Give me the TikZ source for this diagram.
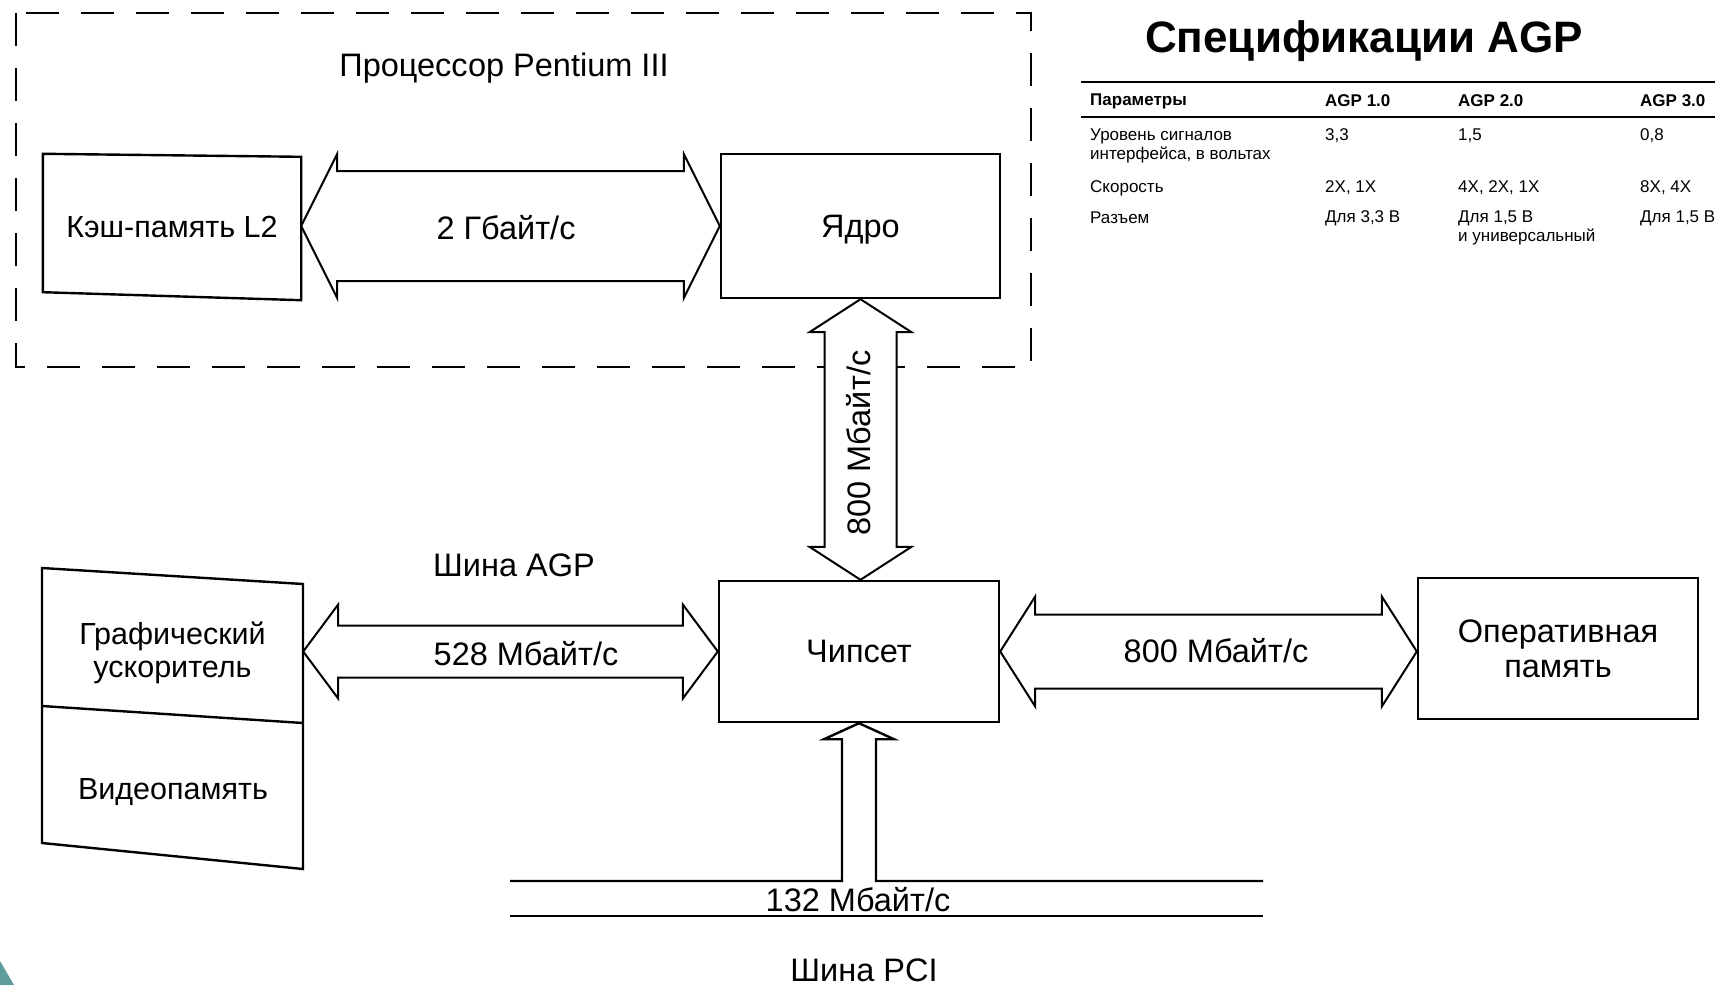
\documentclass[tikz,border=0pt]{standalone}
\usepackage{fontspec}
\setmainfont{Liberation Sans}
\usetikzlibrary{calc}
\definecolor{cornerteal}{RGB}{95,155,155}
\newcommand\hdarrow[5]{%
  \draw[blockarrow] (#1) -- ($(#1)+(#5,-#4)$) -- ($(#1)+(#5,-#3)$) -- ($(#2)+(-#5,-#3)$) -- ($(#2)+(-#5,-#4)$) -- (#2)
    -- ($(#2)+(-#5,#4)$) -- ($(#2)+(-#5,#3)$) -- ($(#1)+(#5,#3)$) -- ($(#1)+(#5,#4)$) -- cycle;}
\newcommand\vdarrow[5]{%
  \draw[blockarrow] (#1) -- ($(#1)+(#4,#5)$) -- ($(#1)+(#3,#5)$) -- ($(#2)+(#3,-#5)$) -- ($(#2)+(#4,-#5)$) -- (#2)
    -- ($(#2)+(-#4,-#5)$) -- ($(#2)+(-#3,-#5)$) -- ($(#1)+(-#3,#5)$) -- ($(#1)+(-#4,#5)$) -- cycle;}
\begin{document}
\begin{tikzpicture}[x=1pt,y=-1pt,line join=miter,
  box/.style={draw,line width=2.4pt,inner sep=0pt,align=center,font=\fontsize{32.5}{36}\selectfont},
  plain/.style={inner sep=0pt,align=center,font=\fontsize{30.5}{34}\selectfont},
  outline/.style={draw,line width=2.4pt},
  blockarrow/.style={draw,fill=white,line width=2pt},
  lbl/.style={inner sep=0pt,font=\fontsize{32.5}{36}\selectfont},
  tab/.style={anchor=west,inner sep=0pt,font=\fontsize{17}{20}\selectfont},
  tabh/.style={tab,font=\fontsize{17}{20}\selectfont\bfseries},
  frame/.style={draw,line width=2.4pt,dash pattern=on 33pt off 22pt},
  rule/.style={draw,line width=2pt}]
\useasboundingbox (0,0) rectangle (1715,985);
\fill[white] (0,0) rectangle (1715,985);
% processor frame
\draw[frame] (16,13) rectangle (1031,367);
\node[lbl] (cpu) at (504,68) {Процессор Pentium III};
% boxes
\node[plain,minimum width=258pt,minimum height=146pt] (cache) at (172,227) {Кэш-память L2};
\draw[outline] (cache.north west) -- ($(cache.north east)+(0,3)$) -- (cache.south east) -- ($(cache.south west)+(0,-8)$) -- cycle;
\node[box,minimum width=279pt,minimum height=144pt,text depth=0pt] (core) at (860.5,226) {Ядро};
\node[box,minimum width=280pt,minimum height=141pt] (chipset) at (859,651.5) {Чипсет};
\node[box,minimum width=280pt,minimum height=141pt] (ram) at (1558,648.5) {Оперативная\\[-1pt]память};
% graphics card
\node[plain,minimum width=261pt,minimum height=138pt] (gpu) at (172.5,653) {Графический\\[-1pt]ускоритель};
\node[plain] (vmem) at (173,792) {Видеопамять};
\draw[outline] (42,568) -- (303,584) -- (303,869) -- (42,843) -- cycle;
\draw[outline] (42,706) -- (303,723);
% arrows
\hdarrow{core.west -| cache.east}{core.west}{55}{72}{36}
\node[lbl] (l2g) at (506,228) {2 Гбайт/с};
\vdarrow{core.south}{core.south |- chipset.north}{36}{51}{33}
\node[lbl,rotate=90] (l800v) at (859,443) {800 Мбайт/с};
\hdarrow{chipset.west -| gpu.east}{chipset.west}{26}{47}{35}
\node[lbl] (agp) at (514,565) {Шина AGP};
\node[lbl] (l528) at (526,654) {528 Мбайт/с};
\hdarrow{chipset.east}{chipset.east -| ram.west}{37}{55}{35}
\node[lbl] (l800h) at (1216,651) {800 Мбайт/с};
% PCI bus
\coordinate (busL) at (510,881);
\coordinate (busR) at (1263,881);
\coordinate (pci) at (chipset.south |- busL);
\draw[line width=2.4pt] (busL) -- ($(pci)+(-17,0)$) -- ($(chipset.south)+(-17,16)$) -- ($(chipset.south)+(-35,16)$) -- (chipset.south)
  -- ($(chipset.south)+(35,16)$) -- ($(chipset.south)+(17,16)$) -- ($(pci)+(17,0)$) -- (busR);
\draw[line width=2.4pt] (510,916) -- (1263,916);
\node[lbl] (l132) at (858,900) {132 Мбайт/с};
\node[lbl] (pcibus) at (864,970) {Шина PCI};
% title and table
\node[inner sep=0pt,font=\fontsize{44}{48}\selectfont\bfseries] (title) at (1364,41) {Спецификации AGP};
\draw[rule] (1081,82) -- (1715,82);
\draw[rule] (1081,117) -- (1715,117);
\node[tabh] (h0) at (1090,101) {Параметры};
\node[tabh] (h1) at (1325,101) {AGP 1.0};
\node[tabh] (h2) at (1458,101) {AGP 2.0};
\node[tabh] (h3) at (1640,101) {AGP 3.0};
\node[tab] (r1a) at (1090,136) {Уровень сигналов};
\node[tab] (r1b) at (1090,155) {интерфейса, в вольтах};
\node[tab] (r1c1) at (1325,136) {3,3};
\node[tab] (r1c2) at (1458,136) {1,5};
\node[tab] (r1c3) at (1640,136) {0,8};
\node[tab] (r2) at (1090,188) {Скорость};
\node[tab] (r2c1) at (1325,188) {2X, 1X};
\node[tab] (r2c2) at (1458,188) {4X, 2X, 1X};
\node[tab] (r2c3) at (1640,188) {8X, 4X};
\node[tab] (r3) at (1090,218) {Разъем};
\node[tab] (r3c1) at (1325,218) {Для 3,3 В};
\node[tab] (r3c2) at (1458,218) {Для 1,5 В};
\node[tab] (r3c2b) at (1458,237) {и универсальный};
\node[tab] (r3c3) at (1640,218) {Для 1,5 В};
% corner decoration
\fill[cornerteal] (0,961) -- (14,985) -- (0,985) -- cycle;
\end{tikzpicture}
\end{document}
